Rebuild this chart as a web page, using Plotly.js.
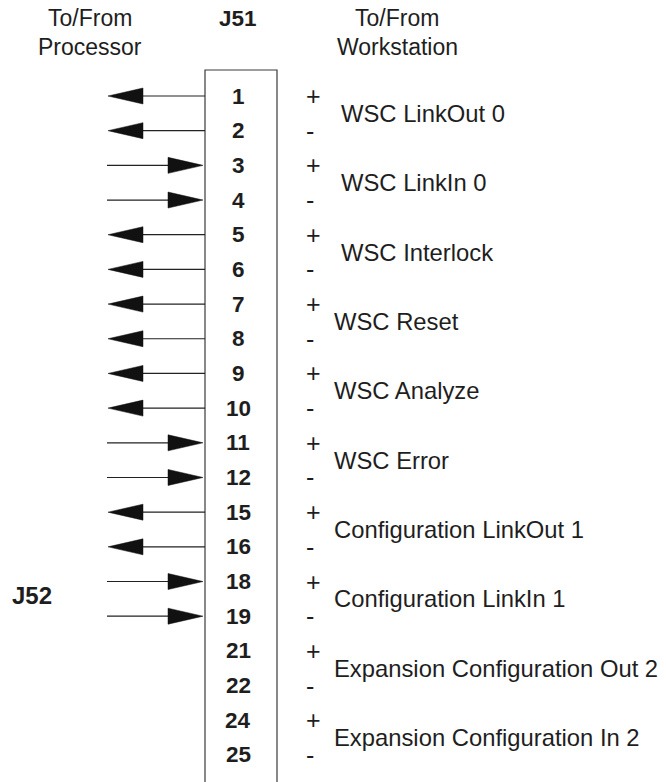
<!DOCTYPE html>
<html>
<head>
<meta charset="utf-8">
<script src="https://cdn.plot.ly/plotly-3.0.1.min.js"></script>
<style>html,body{margin:0;padding:0;background:#fff;}#chart{width:666px;height:782px;}</style>
</head>
<body>
<div id="chart"></div>
<script>
// ---- data ----
const pins = [1, 2, 3, 4, 5, 6, 7, 8, 9, 10, 11, 12, 15, 16, 18, 19, 21, 22, 24, 25];
const directions = ['out', 'out', 'in', 'in', 'out', 'out', 'out', 'out', 'out', 'out',
                    'in', 'in', 'out', 'out', 'in', 'in', '', '', '', ''];
const polarity = ['+', '-', '+', '-', '+', '-', '+', '-', '+', '-',
                  '+', '-', '+', '-', '+', '-', '+', '-', '+', '-'];
const signals = ['WSC LinkOut 0', 'WSC LinkIn 0', 'WSC Interlock', 'WSC Reset', 'WSC Analyze',
                 'WSC Error', 'Configuration LinkOut 1', 'Configuration LinkIn 1',
                 'Expansion Configuration Out 2', 'Expansion Configuration In 2'];
const connectorName = 'J51';
const secondConnector = 'J52';
const secondConnectorFirstPin = 18;
const leftHeader = ['To/From', 'Processor'];
const rightHeader = ['To/From', 'Workstation'];

// ---- layout constants (pixels) ----
const W = 666, H = 782;
const ROW0 = 96, PITCH = 34.68;
const BOX_L = 205, BOX_R = 277, BOX_TOP = 70;
const PIN_X = 238, SIGN_X = 304;
const ARROW_FAR = 108, HEAD_LEN = 35, HEAD_HALF = 8;
const FONT = 'Liberation Sans, Arial, Helvetica, sans-serif';
const FS_PIN = 22.5, FS_SIGN = 25, FS_LABEL = 23.8, FS_HEAD = 23;
const TXT = '#1e1e1e';

const pxToRow = px => (px - ROW0) / PITCH;
const hh = HEAD_HALF / PITCH;

// box
const boxTrace = {
  x: [BOX_L, BOX_L, BOX_R, BOX_R],
  y: [pxToRow(H + 20), pxToRow(BOX_TOP), pxToRow(BOX_TOP), pxToRow(H + 20)],
  mode: 'lines', line: {color: '#3a3a3a', width: 1.2}, hoverinfo: 'skip'
};

// arrow shafts and heads
const shaftX = [], shaftY = [], headX = [], headY = [];
pins.forEach((p, i) => {
  const d = directions[i];
  if (!d) return;
  if (d === 'out') {
    shaftX.push(BOX_L, ARROW_FAR + HEAD_LEN, null);
    shaftY.push(i, i, null);
    headX.push(ARROW_FAR, ARROW_FAR + HEAD_LEN, ARROW_FAR + HEAD_LEN, ARROW_FAR, null);
    headY.push(i, i - hh, i + hh, i, null);
  } else {
    const tip = BOX_L - 2;
    shaftX.push(ARROW_FAR - 1, tip - HEAD_LEN, null);
    shaftY.push(i, i, null);
    headX.push(tip, tip - HEAD_LEN, tip - HEAD_LEN, tip, null);
    headY.push(i, i - hh, i + hh, i, null);
  }
});
const shaftTrace = {x: shaftX, y: shaftY, mode: 'lines', line: {color: '#222', width: 1.2}, hoverinfo: 'skip'};
const headTrace = {x: headX, y: headY, mode: 'lines', fill: 'toself', fillcolor: '#111',
                   line: {color: '#111', width: 0.5}, hoverinfo: 'skip'};

// text annotations
const ann = [];
const txt = (text, x, y, xanchor, bold, size) => ann.push({
  text: bold ? '<b>' + text + '</b>' : text, x: x, y: y, xref: 'x', yref: 'y',
  xanchor: xanchor, yanchor: 'middle', showarrow: false,
  font: {family: FONT, size: size, color: TXT}
});
pins.forEach((p, i) => {
  txt(String(p), PIN_X, i, 'center', true, FS_PIN);
  txt(polarity[i], SIGN_X, i, 'left', false, FS_SIGN);
});
signals.forEach((s, k) => {
  const lx = k < 3 ? 339 : 332;
  txt(s, lx, 2 * k + 0.5, 'left', false, FS_LABEL);
});
txt(leftHeader[0], 90, pxToRow(18), 'center', false, FS_HEAD);
txt(leftHeader[1], 90, pxToRow(47), 'center', false, FS_HEAD);
txt(connectorName, 238, pxToRow(18), 'center', true, FS_PIN);
txt(rightHeader[0], 397, pxToRow(18), 'center', false, FS_HEAD);
txt(rightHeader[1], 397, pxToRow(47), 'center', false, FS_HEAD);
const j52Row = pins.indexOf(secondConnectorFirstPin);
txt(secondConnector, 10, j52Row + 0.4, 'left', true, 24);

const layout = {
  width: W, height: H, margin: {l: 0, r: 0, t: 0, b: 0},
  paper_bgcolor: '#fff', plot_bgcolor: '#fff', showlegend: false,
  xaxis: {range: [0, W], visible: false, fixedrange: true},
  yaxis: {range: [pxToRow(H), pxToRow(0)], visible: false, fixedrange: true},
  annotations: ann
};
Plotly.newPlot('chart', [boxTrace, shaftTrace, headTrace], layout, {displayModeBar: false, staticPlot: true});
</script>
</body>
</html>
